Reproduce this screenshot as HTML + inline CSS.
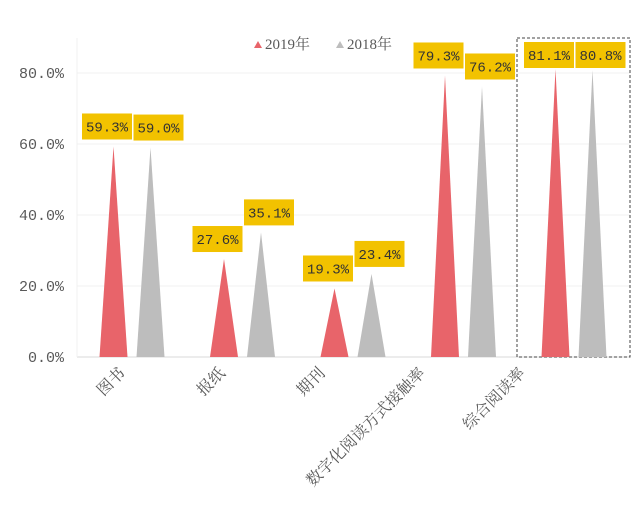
<!DOCTYPE html>
<html><head><meta charset="utf-8"><style>
html,body{margin:0;padding:0;background:#fff;}
svg{display:block;}
</style></head><body>
<svg id="chart" width="639" height="520" xmlns="http://www.w3.org/2000/svg" font-family="'Liberation Serif','Noto Serif CJK SC',serif">
</svg>
<script>
const categories = ["图书","报纸","期刊","数字化阅读方式接触率","综合阅读率"];
const series2019 = [59.3, 27.6, 19.3, 79.3, 81.1];
const series2018 = [59.0, 35.1, 23.4, 76.2, 80.8];
const yTicks = [0, 20, 40, 60, 80];
const yTickLabels = ["0.0%","20.0%","40.0%","60.0%","80.0%"];
const seriesNames = ["2019年","2018年"];

const svg = document.getElementById('chart');
const NS = 'http://www.w3.org/2000/svg';
function mk(tag, attrs, parent){const e=document.createElementNS(NS,tag);for(const k in attrs)e.setAttribute(k,attrs[k]);(parent||svg).appendChild(e);return e;}

const plotL=77, plotR=630, y0=357, pxPer=71/20;
const yScale = v => y0 - v*pxPer;
const catX = i => 132 + 110.5*i;
const off = 18.5, halfW = 14;

yTicks.forEach((t,i)=>{
  const g = mk('line',{x1:plotL,x2:plotR,y1:yScale(t),y2:yScale(t),stroke:i===0?'#d9d9d9':'#f0f0f0','stroke-width':1});
  
  
  const tx = mk('text',{x:64,y:yScale(t)+5,'text-anchor':'end','font-size':15,fill:'#595959','font-family':"'Liberation Mono',monospace"});
  tx.textContent = yTickLabels[i];
  
  
});
const ax = mk('line',{x1:plotL,x2:plotL,y1:38,y2:y0,stroke:'#f0f0f0'});



const hb = mk('rect',{x:catX(4)-57,y:38,width:113,height:y0-38,fill:'none',stroke:'#444','stroke-dasharray':'3,2','stroke-width':1});



function drawSeries(vals, dx, labelDx, color, name){
  vals.forEach((v,i)=>{
    const cx = catX(i)+dx, top=yScale(v);
    const p = mk('polygon',{points:`${cx-halfW},${y0} ${cx},${top} ${cx+halfW},${y0}`,fill:color});
    
    
    let by = top - 33; if (by < 42) by = 42;
    const lx = cx + labelDx;
    const r = mk('rect',{x:lx-25,y:by,width:50,height:26,fill:'#f2c200'});
    
    
    const t = mk('text',{x:lx,y:by+18,'text-anchor':'middle','font-size':14,fill:'#333','font-family':"'Liberation Mono',monospace"});
    t.textContent = v.toFixed(1)+'%';
    
    
  });
}
drawSeries(series2019, -off, -6.5, '#e8646a', 'series-2019');
drawSeries(series2018, off, 8, '#bdbdbd', 'series-2018');

categories.forEach((c,i)=>{
  const ex = 126 + 100*i, ey = 374;
  const t = mk('text',{x:ex,y:ey,'text-anchor':'end','font-size':16,fill:'#595959',transform:`rotate(-45 ${ex} ${ey})`});
  t.textContent = c;
  
  
});

const legCols=['#e8646a','#bdbdbd'], legX=[258,340];
seriesNames.forEach((n,i)=>{
  const x=legX[i];
  const m = mk('polygon',{points:`${x-4},${48} ${x},${41} ${x+4},${48}`,fill:legCols[i]});
  
  
  const t = mk('text',{x:x+7,y:49,'font-size':15,fill:'#595959'});
  t.textContent=n;
  
  
});
</script>
</body></html>
